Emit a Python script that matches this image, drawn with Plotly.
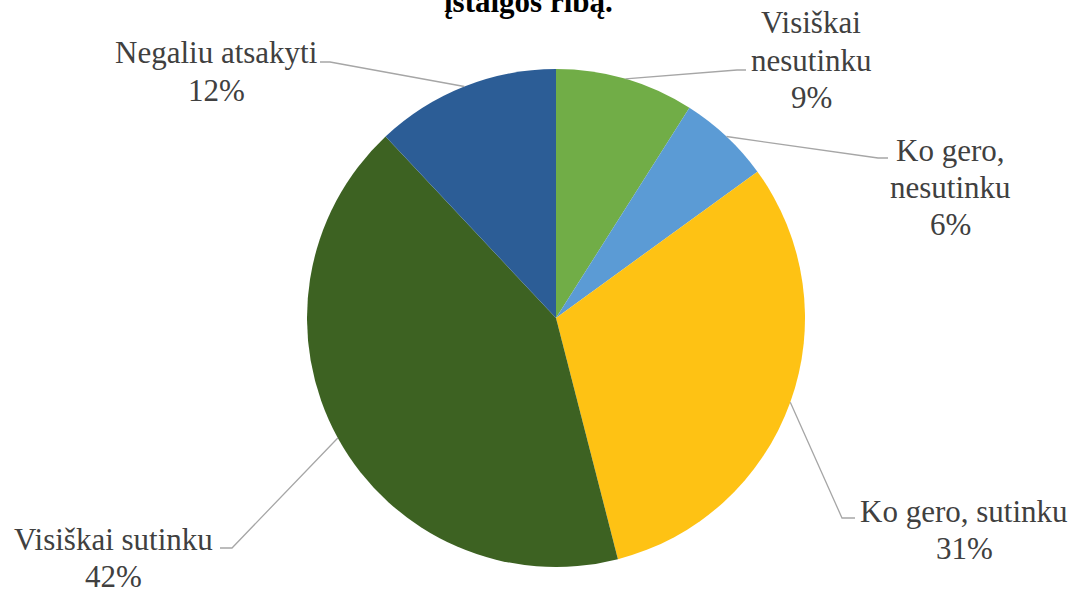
import math
import plotly.graph_objects as go

# ---- data ----
categories = ["Visiškai nesutinku", "Ko gero, nesutinku", "Ko gero, sutinku",
              "Visiškai sutinku", "Negaliu atsakyti"]
label_lines = [["Visiškai", "nesutinku"], ["Ko gero,", "nesutinku"], ["Ko gero, sutinku"],
               ["Visiškai sutinku"], ["Negaliu atsakyti"]]
values = [9, 6, 31, 42, 12]
colors = ["#71AD47", "#5B9BD5", "#FEC214", "#3D6222", "#2C5D96"]
title_text = "įstaigos ribą."

# ---- layout settings (pixels) ----
W, H = 1080, 593
cx, cy, R = 556, 318, 249
FONT = "Liberation Serif, Times New Roman, serif"
FS = 31
LS = 37
# label first-line centre and leader elbow/end points for each slice
label_pos = [(811, 23), (950, 150), (964, 511), (113, 539), (216, 53)]
leader_pts = [[(737, 70), (746, 70)], [(878, 158), (888, 158)],
              [(842, 518), (855, 518)], [(232, 548), (220, 548)],
              [(330, 62), (320, 62)]]

def px(x):
    return x / W

def py(y):
    return 1 - y / H

fig = go.Figure(go.Pie(
    labels=categories, values=values, sort=False, direction="clockwise",
    rotation=0, marker=dict(colors=colors, line=dict(width=0)),
    textinfo="none", hoverinfo="label+percent", showlegend=False,
    domain=dict(x=[px(cx - R), px(cx + R)], y=[py(cy + R), py(cy - R)]),
))

annotations = []
shapes = []
total = sum(values)
cum = 0
for i, v in enumerate(values):
    mid = (cum + v / 2) / total * 2 * math.pi
    cum += v
    sx = cx + R * math.sin(mid)
    sy = cy - R * math.cos(mid)
    pts = [(sx, sy)] + leader_pts[i]
    path = "M " + " L ".join(f"{px(x)},{py(y)}" for x, y in pts)
    shapes.append(dict(type="path", path=path, xref="paper", yref="paper",
                       line=dict(color="#A6A6A6", width=1.3)))
    lines = label_lines[i] + [f"{round(v / total * 100)}%"]
    lx, ly = label_pos[i]
    for j, t in enumerate(lines):
        annotations.append(dict(text=t, x=px(lx), y=py(ly + j * LS), xref="paper", yref="paper",
                                xanchor="center", yanchor="middle", showarrow=False,
                                font=dict(family=FONT, size=FS, color="#404040")))

annotations.append(dict(text=f"<b>{title_text}</b>", x=px(528), y=1, xref="paper", yref="paper",
                        xanchor="center", yanchor="bottom", yshift=-21, showarrow=False,
                        font=dict(family=FONT, size=31, color="#000000")))

fig.update_layout(width=W, height=H, margin=dict(l=0, r=0, t=0, b=0),
                  paper_bgcolor="white", plot_bgcolor="white",
                  annotations=annotations, shapes=shapes)

fig.write_html("out.html", config={"displayModeBar": False},
               post_script="document.body.style.margin='0';")
